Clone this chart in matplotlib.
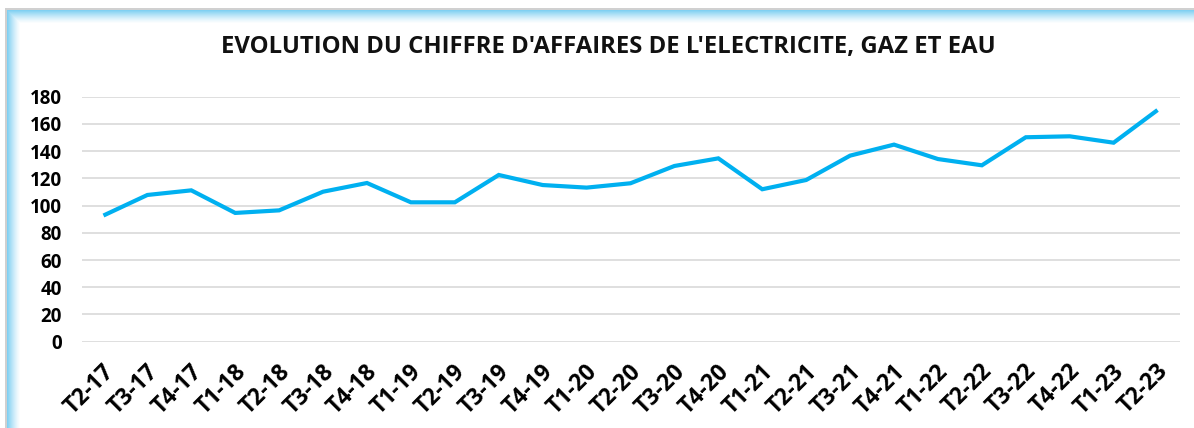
import matplotlib.pyplot as plt
import matplotlib.transforms as mtransforms
import numpy as np

quarters = ["T2-17", "T3-17", "T4-17",
            "T1-18", "T2-18", "T3-18", "T4-18",
            "T1-19", "T2-19", "T3-19", "T4-19",
            "T1-20", "T2-20", "T3-20", "T4-20",
            "T1-21", "T2-21", "T3-21", "T4-21",
            "T1-22", "T2-22", "T3-22", "T4-22",
            "T1-23", "T2-23"]
chiffre_affaires = [92.7, 107.8, 111.2, 94.6, 96.5, 110.2, 116.6,
                    102.4, 102.4, 122.5, 115.1, 113.2, 116.4, 129.1, 134.7,
                    112.0, 118.8, 136.7, 144.8, 134.2, 129.6, 150.2, 150.9,
                    146.2, 170.2]
y_ticks = [0, 20, 40, 60, 80, 100, 120, 140, 160, 180]

plt.rcParams["font.family"] = ["Open Sans", "DejaVu Sans"]

W, H = 1194, 428
fig = plt.figure(figsize=(W / 100, H / 100), dpi=100)

# frame decoration: gray outline + blue glow fading inward (left and top)
bg = np.ones((H, W, 3))
blue = np.array([0x80, 0xD0, 0xF2]) / 255.0
gray = np.array([0xD0, 0xD0, 0xD0]) / 255.0
glow = 13
for i in range(glow):
    a = (1 - i / glow) ** 1.3
    col = a * blue + (1 - a)
    # left band
    bg[10 + i:, 7 + i] = col
    # top band
    bg[10 + i, 7 + i:] = col
bg[8:10, 5:] = gray
bg[8:, 5:7] = gray
bg[:8, :] = 1
bg[:, :5] = 1
bg_ax = fig.add_axes([0, 0, 1, 1])
bg_ax.imshow(bg, aspect="auto", interpolation="nearest")
bg_ax.axis("off")

ax = fig.add_axes([81.5 / W, 1 - 341.7 / H, (1179.5 - 81.5) / W, 245 / H])
ax.patch.set_alpha(0)
x = np.arange(len(quarters))
ax.plot(x, chiffre_affaires, color="#00B0F0", lw=3, solid_joinstyle="miter",
        solid_capstyle="butt")

ax.set_xlim(-0.5, len(quarters) - 0.5)
ax.set_ylim(0, 180)
ax.set_yticks(y_ticks)
ax.set_yticklabels([str(v) for v in y_ticks], fontsize=13.5, fontweight="bold")
ax.set_xticks(x)
ax.set_xticklabels(quarters, rotation=45, ha="right", va="center",
                   rotation_mode="anchor", fontsize=16.5, fontweight="bold")
ax.tick_params(axis="both", length=0)
ax.tick_params(axis="y", pad=14)
ax.tick_params(axis="x", pad=19)
# nudge rotated labels right so their top end sits next to the category
shift = mtransforms.ScaledTranslation(7 / 100, 0, fig.dpi_scale_trans)
for lab in ax.get_xticklabels():
    lab.set_transform(lab.get_transform() + shift)
ax.grid(axis="y", color="#D9D9D9", lw=1.2)
ax.set_axisbelow(True)
for s in ax.spines.values():
    s.set_visible(False)

fig.text(608 / W, 1 - 47 / H,
         "EVOLUTION DU CHIFFRE D'AFFAIRES DE L'ELECTRICITE, GAZ ET EAU",
         ha="center", va="center", fontsize=17.2, fontweight="bold", color="#111111")

fig.savefig("out.png", dpi=100)
